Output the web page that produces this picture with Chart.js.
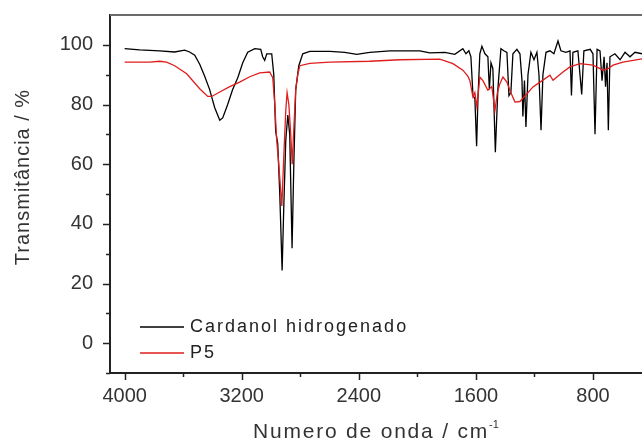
<!DOCTYPE html>
<html>
<head>
<meta charset="utf-8">
<script src="https://cdn.jsdelivr.net/npm/chart.js@4.4.1/dist/chart.umd.min.js"></script>
<style>
html,body{margin:0;padding:0;background:#fff;overflow:hidden}
#wrap{width:642px;height:441px}
</style>
</head>
<body>
<div id="wrap"><canvas id="IR" width="642" height="441"></canvas></div>
<script>
// spectrum: wavenumber (cm-1) and transmittance (%)
const wnBlack=[4000,3897,3761,3658,3590,3556,3521,3487,3453,3419,3385,3350,3330,3296,3262,3227,3193,3159,3111,3070,3057,3043,3029,2995,2981,2968,2954,2940,2924,2913,2899,2885,2872,2856,2844,2831,2810,2783,2735,2598,2496,2414,2325,2188,1983,1915,1812,1744,1689,1668,1648,1634,1620,1607,1595,1586,1573,1559,1538,1518,1508,1497,1484,1467,1450,1429,1409,1388,1374,1361,1347,1320,1299,1285,1279,1268,1258,1244,1224,1203,1183,1169,1155,1142,1121,1094,1067,1039,1019,985,957,947,937,903,877,862,819,800,786,772,752,738,724,714,704,695,684,650,615,581,547,513,465]
const tBlack=[98.7,98.3,98,97.6,98.2,97.6,96.5,93.5,89.5,85,79,74.7,75.5,80,85,89,94,97.5,98.7,98.5,96,94.8,97,97,90,71,67,50,24.4,45,68,76.5,70,31.8,60,85,93,97,97.8,97.8,97.5,96.8,97.5,98,98,97.3,97.5,96.8,98.7,97,98,96,83,82,66,82,97,99.5,97,96,85,94,92,64,85,98.7,98,97.5,83,84,97,98.5,97,88,76,88,72.5,90,97.5,95,97.5,90,71.4,90,97.5,98,97,101.3,98,97.5,98,83,97.5,98,83.4,98,98.5,97,70,98.5,98,88,96,86,94,71.4,96,97,95,97.5,96,97.5,97]

const wnRed=[4000,3829,3761,3713,3658,3576,3487,3432,3405,3350,3282,3214,3145,3077,3009,2988,2974,2961,2947,2926,2913,2899,2890,2878,2865,2855,2844,2831,2817,2803,2735,2598,2325,2120,1846,1757,1689,1655,1641,1620,1607,1593,1573,1552,1518,1491,1470,1453,1436,1415,1388,1368,1333,1299,1251,1210,1162,1094,1073,1005,957,889,800,752,731,697,663,595,465]
const tRed=[94.2,94.2,94.5,94.2,93,90.3,85.3,82.7,82.7,84.2,86,87.5,89.3,90.6,90.9,89,80,68,60,46,62,78,84,80,70,60,72,85,90,93,93.8,94.2,94.5,95,95.2,93.7,91.5,89.5,88,82.5,84,79.2,89.2,88,84.8,86,78,84,87,89.2,87.5,84.8,80.8,81,83.6,85.9,87.5,89.8,88.1,90.9,92.6,93.7,93.2,92,91.5,92,93.2,94.2,95.3]

const xMajor=[4000,3200,2400,1600,800]
const xMinor=[3600,2800,2000,1200]
const yMajor=[0,20,40,60,80,100]
const yMinor=[-10,10,30,50,70,90]

const SERIES=["Cardanol hidrogenado","P5"]
const COLOURS=["#000000","#e01c1c"]

const FONT="'Liberation Sans', Arial, sans-serif"

function Pairs(X,Y){return X.map((x,i)=>({x:x,y:Y[i]}))}
function NoPad(s){s.paddingTop=0;s.paddingBottom=0;s.paddingLeft=0;s.paddingRight=0}

// ticks, top border, legend and axis titles
const extrasPlugin={
id:'extras',
afterDraw(chart){
const ctx=chart.ctx,a=chart.chartArea,xs=chart.scales.x,ys=chart.scales.y
ctx.save()
ctx.strokeStyle='#6a6a6a';ctx.lineWidth=2
ctx.beginPath();ctx.moveTo(a.left,a.top);ctx.lineTo(a.right,a.top);ctx.stroke()
ctx.strokeStyle='#222';ctx.lineWidth=1.5
xMajor.forEach(v=>{const p=Math.round(xs.getPixelForValue(v))+0.5;ctx.beginPath();ctx.moveTo(p,a.bottom);ctx.lineTo(p,a.bottom+7);ctx.stroke()})
xMinor.forEach(v=>{const p=Math.round(xs.getPixelForValue(v))+0.5;ctx.beginPath();ctx.moveTo(p,a.bottom);ctx.lineTo(p,a.bottom+4);ctx.stroke()})
yMajor.forEach(v=>{const p=Math.round(ys.getPixelForValue(v))+0.5;ctx.beginPath();ctx.moveTo(a.left,p);ctx.lineTo(a.left-7,p);ctx.stroke()})
yMinor.forEach(v=>{const p=Math.round(ys.getPixelForValue(v))+0.5;ctx.beginPath();ctx.moveTo(a.left,p);ctx.lineTo(a.left-4,p);ctx.stroke()})

//legend
chart.data.datasets.forEach((d,i)=>{
const y=327+i*26
ctx.strokeStyle=d.borderColor;ctx.lineWidth=1.5
ctx.beginPath();ctx.moveTo(140,y);ctx.lineTo(184,y);ctx.stroke()
ctx.fillStyle='#222';ctx.font='18px '+FONT;ctx.letterSpacing='2px'
ctx.textBaseline='middle';ctx.textAlign='left'
ctx.fillText(d.label,190,y)
})

//axis titles
ctx.letterSpacing='1px'
ctx.fillStyle='#333';ctx.font='20px '+FONT
ctx.save();ctx.translate(23,177);ctx.rotate(-Math.PI/2)
ctx.textAlign='center';ctx.textBaseline='middle';ctx.fillText('Transmitância / %',0,0)
ctx.restore()
ctx.letterSpacing='1.8px'
ctx.font='21px '+FONT
const T='Numero de onda / cm'
const w=ctx.measureText(T).width
const sx=(a.left+a.right)/2-(w+10)/2
ctx.textAlign='left';ctx.textBaseline='alphabetic'
ctx.fillText(T,sx,438)
ctx.letterSpacing='0px'
ctx.font='11px '+FONT
ctx.fillText('-1',sx+w,428)
ctx.restore()
}
}

let ChartIR

function LoadIR(){
ChartIR=new Chart(document.getElementById('IR'),{
type:'line',
data:{datasets:[
{label:SERIES[0],data:Pairs(wnBlack,tBlack),borderColor:COLOURS[0],borderWidth:1.3,pointRadius:0,tension:0,order:1},
{label:SERIES[1],data:Pairs(wnRed,tRed),borderColor:COLOURS[1],borderWidth:1.3,pointRadius:0,tension:0,order:0}
]},
options:{
responsive:false,animation:false,
layout:{padding:{top:15,right:0,left:0,bottom:0}},
plugins:{legend:{display:false},tooltip:{enabled:false},title:{display:false}},
scales:{
x:{type:'linear',reverse:true,min:465,max:4100,
afterBuildTicks:s=>{s.ticks=xMajor.map(v=>({value:v}))},
afterFit:s=>{s.height=68;NoPad(s)},
ticks:{padding:4,color:'#333',font:{family:FONT,size:20},maxRotation:0,autoSkip:false,callback:v=>String(v)},
grid:{drawOnChartArea:false,drawTicks:true,tickLength:7,tickColor:'rgba(0,0,0,0)'},
border:{display:true,color:'#222',width:2}
},
y:{type:'linear',min:-10,max:110,
afterBuildTicks:s=>{s.ticks=yMajor.map(v=>({value:v}))},
afterFit:s=>{s.width=110;NoPad(s)},
ticks:{padding:10,color:'#333',font:{family:FONT,size:20},callback:v=>String(v)},
grid:{drawOnChartArea:false,drawTicks:true,tickLength:7,tickColor:'rgba(0,0,0,0)'},
border:{display:true,color:'#222',width:2}
}
}
},
plugins:[extrasPlugin]
})
}

LoadIR()
</script>
</body>
</html>
